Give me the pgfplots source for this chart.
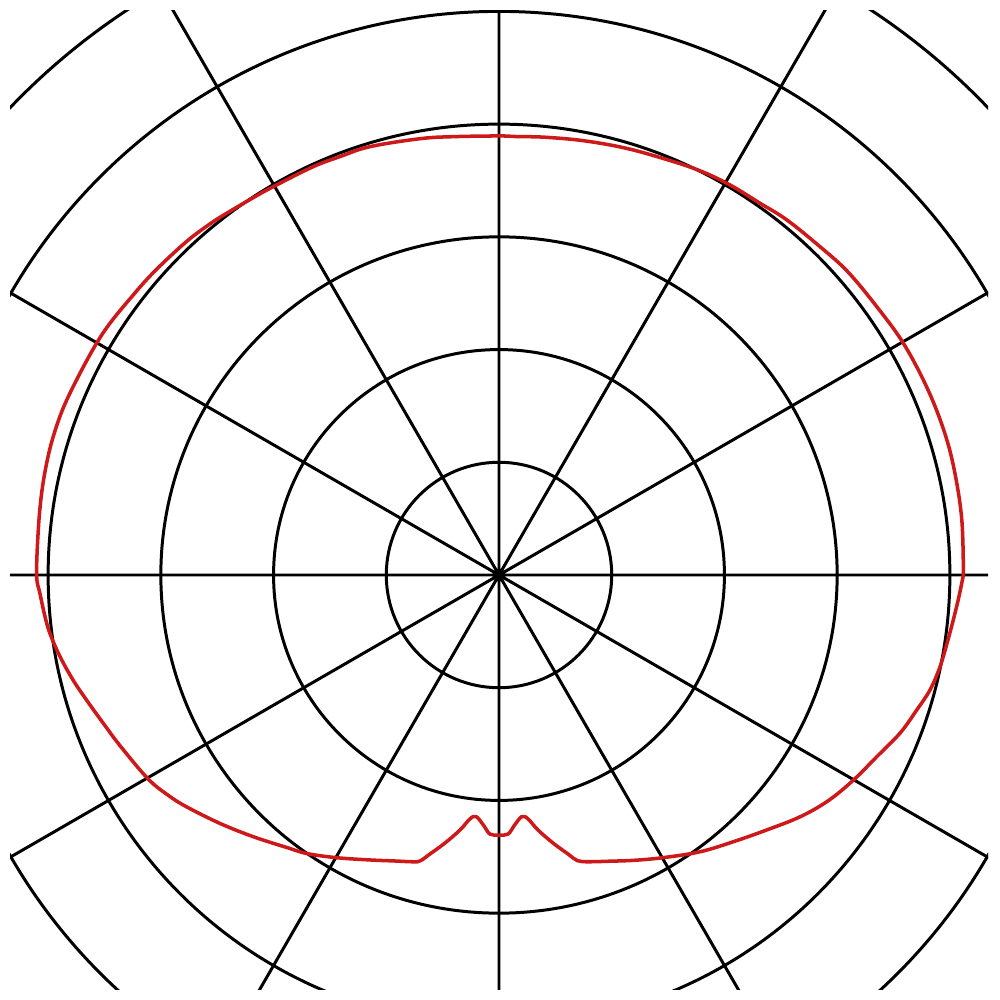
\documentclass[border=0pt]{standalone}
\usepackage{pgfplots}
\pgfplotsset{compat=1.18}
\usepgfplotslibrary{polar}
\definecolor{curvered}{RGB}{205,25,25}
\begin{document}
\begin{tikzpicture}
\useasboundingbox (0,0) rectangle (10cm,10cm);
\clip (0.10cm,0.10cm) rectangle (9.88cm,9.89cm);
\begin{polaraxis}[
    at={(4.99cm,4.25cm)}, anchor=center,
    width=15.78cm, height=15.78cm, scale only axis,
    xmin=0, xmax=360, ymin=0, ymax=7,
    xtick={0,30,...,330}, ytick={1,...,7},
    xticklabels={}, yticklabels={},
    grid=major,
    major grid style={black, line width=0.85pt},
    axis line style={draw=none},
    tick style={draw=none},
]
% angle (deg), radius
\addplot[curvered, line width=1pt, line join=round, smooth, tension=0.6] table {
t r
0 4.12
6.8 4.135
12.9 4.145
17.9 4.15
23.6 4.145
29.8 4.135
35.4 4.111
41 4.10
45.6 4.074
51 4.055
54.9 4.030
59.4 4.022
63.6 4.005
68 3.975
73.5 3.950
79 3.925
84 3.905
87.7 3.893
90 3.895
96.0 3.910
100.3 3.934
106.8 3.969
110.8 3.971
114.5 3.980
120.2 3.985
123.1 3.995
127.0 4.017
129.5 4.035
133.3 4.055
138.9 4.075
143.3 4.090
147.1 4.111
150.1 4.120
154.3 4.126
158.9 4.140
162.8 4.141
166.1 4.134
169.9 4.122
174.4 4.107
180 4.102
182.3 4.076
185.2 4.045
187.4 4.018
190.5 3.962
193.9 3.891
196.9 3.823
200.5 3.750
204.4 3.685
210.2 3.600
213.7 3.525
216.6 3.451
221.7 3.314
226.8 3.185
232.1 3.064
235.4 3.002
240.1 2.893
245.6 2.776
250 2.70
253.4 2.655
254.6 2.630
256.1 2.550
258.6 2.426
261.3 2.289
263.2 2.180
264.6 2.153
266.6 2.231
268.0 2.300
270 2.307
272.0 2.300
273.4 2.231
275.4 2.153
276.8 2.180
278.7 2.289
281.4 2.426
283.9 2.550
285.4 2.630
287.6 2.669
291 2.72
295.3 2.800
300.2 2.901
306.0 3.035
311.3 3.150
316.4 3.280
321.2 3.425
325.5 3.540
329.9 3.632
334.3 3.719
338.5 3.825
342.1 3.895
345.1 3.958
348.3 3.997
351.7 4.024
354.8 4.055
357.3 4.085
360 4.12
};
\end{polaraxis}
\end{tikzpicture}
\end{document}
